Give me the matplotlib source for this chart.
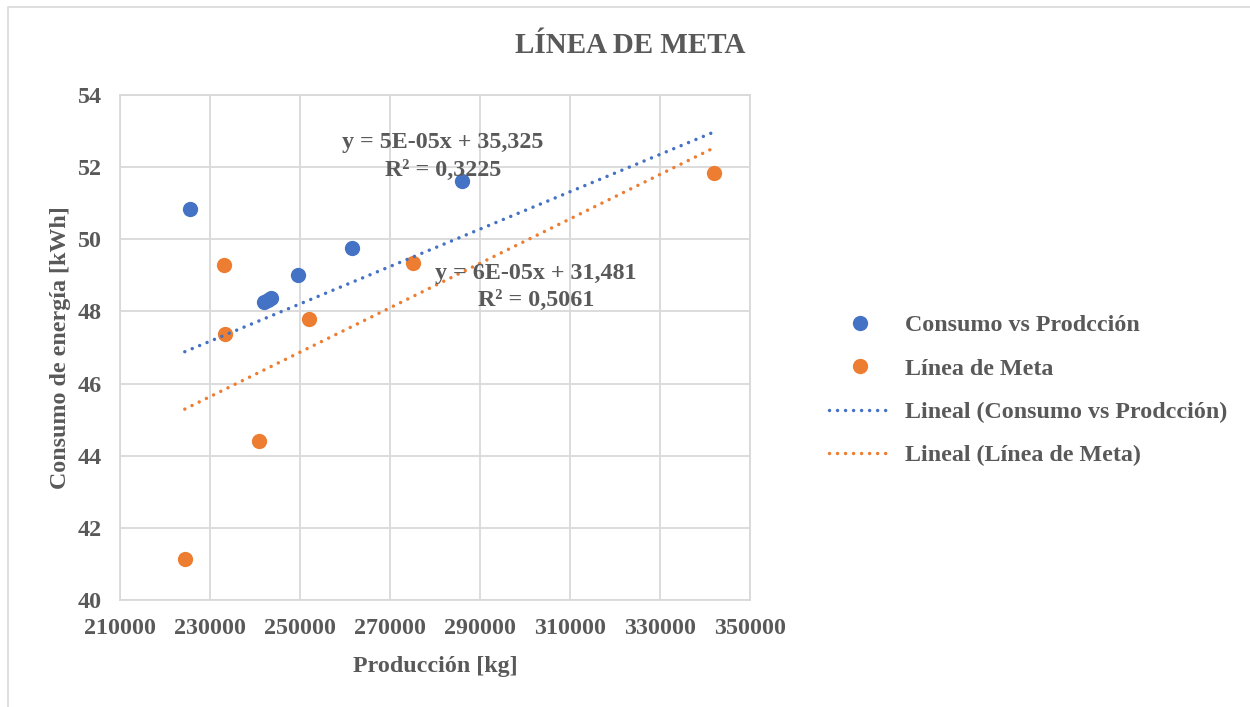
import matplotlib
matplotlib.use("Agg")
import matplotlib.pyplot as plt
import numpy as np
from matplotlib.patches import Rectangle
from matplotlib.lines import Line2D

# ---- data ----
consumo_x = [225600, 286000, 261600, 249600, 242000, 242800, 243500]
consumo_y = [50.83, 51.62, 49.76, 49.02, 48.25, 48.32, 48.38]

meta_x = [233100, 233300, 240800, 251900, 275000, 342000, 224400]
meta_y = [49.30, 47.38, 44.42, 47.78, 49.33, 51.85, 41.14]

# trendline coefficients (slope, intercept) and x-range as drawn
trend_consumo = [5.18e-5, 35.26]
trend_meta = [6.16e-5, 31.47]
trend_xrange = [224400, 342000]

eq_consumo = "y = 5E-05x + 35,325\nR² = 0,3225"
eq_meta = "y = 6E-05x + 31,481\nR² = 0,5061"

x_ticks = list(range(210000, 350001, 20000))
y_ticks = list(range(40, 55, 2))

title = "LÍNEA DE META"
xlabel = "Producción [kg]"
ylabel = "Consumo de energía [kWh]"
labels = ["Consumo vs Prodcción", "Línea de Meta",
          "Lineal (Consumo vs Prodcción)", "Lineal (Línea de Meta)"]

BLUE = "#4472C4"
ORANGE = "#ED7D31"
GRID = "#D9D9D9"
TXT = "#595959"
FS = 17.3

plt.rcParams['font.family'] = ['Liberation Serif', 'DejaVu Serif']
plt.rcParams['font.weight'] = 'bold'

fig = plt.figure(figsize=(12.5, 7.07), dpi=100)
ax = fig.add_axes([0.096, 0.1513, 0.504, 0.7143])

# outer border
fig.patches.append(Rectangle((0.0064, -0.01), 1.0, 1.0, transform=fig.transFigure,
                             fill=False, edgecolor=GRID, lw=1.2))

ax.set_xlim(210000, 350000)
ax.set_ylim(40, 54)
ax.set_xticks(x_ticks)
ax.set_yticks(y_ticks)
ax.set_xticklabels([str(v) for v in x_ticks])
ax.set_yticklabels([str(v) for v in y_ticks])
ax.tick_params(length=0, labelsize=FS, labelcolor=TXT)
ax.tick_params(axis='x', pad=13)
ax.tick_params(axis='y', pad=13)
for lab in ax.get_xticklabels() + ax.get_yticklabels():
    lab.set_fontweight('bold')
ax.grid(True, color=GRID, lw=1.3)
ax.set_axisbelow(True)
for s in ax.spines.values():
    s.set_color(GRID)
    s.set_linewidth(1.3)

ms = 11
ax.plot(consumo_x, consumo_y, 'o', color=BLUE, ms=ms, mew=0, zorder=3)
ax.plot(meta_x, meta_y, 'o', color=ORANGE, ms=ms, mew=0, zorder=4)

tx = np.array(trend_xrange, dtype=float)
lw = 2.5
dash = (0, (0.01, 2.3))
ax.plot(tx, trend_consumo[0] * tx + trend_consumo[1], color=BLUE, lw=lw,
        ls=dash, dash_capstyle='round', zorder=5)
ax.plot(tx, trend_meta[0] * tx + trend_meta[1], color=ORANGE, lw=lw,
        ls=dash, dash_capstyle='round', zorder=5)

ax.text(281800, 52.29, eq_consumo, ha='center', va='center', fontsize=FS,
        color=TXT, fontweight='bold', linespacing=1.4, zorder=6)
ax.text(302400, 48.68, eq_meta, ha='center', va='center', fontsize=FS,
        color=TXT, fontweight='bold', linespacing=1.4, zorder=6)

ax.set_xlabel(xlabel, fontsize=FS, color=TXT, fontweight='bold', labelpad=12)
ax.set_ylabel(ylabel, fontsize=FS, color=TXT, fontweight='bold', labelpad=5)
fig.text(0.504, 0.935, title, ha='center', va='center', fontsize=21,
         color=TXT, fontweight='bold')

handles = [
    Line2D([], [], ls='none', marker='o', color=BLUE, ms=ms, mew=0),
    Line2D([], [], ls='none', marker='o', color=ORANGE, ms=ms, mew=0),
    Line2D([], [], color=BLUE, lw=lw, ls=dash, dash_capstyle='round'),
    Line2D([], [], color=ORANGE, lw=lw, ls=dash, dash_capstyle='round'),
]
leg = fig.legend(handles, labels, loc='upper left', bbox_to_anchor=(0.6555, 0.569),
                 frameon=False, fontsize=FS, handlelength=2.6, handletextpad=0.55,
                 labelspacing=0.9, borderaxespad=0)
for t in leg.get_texts():
    t.set_color(TXT)
    t.set_fontweight('bold')

fig.savefig("out.png", dpi=100)
